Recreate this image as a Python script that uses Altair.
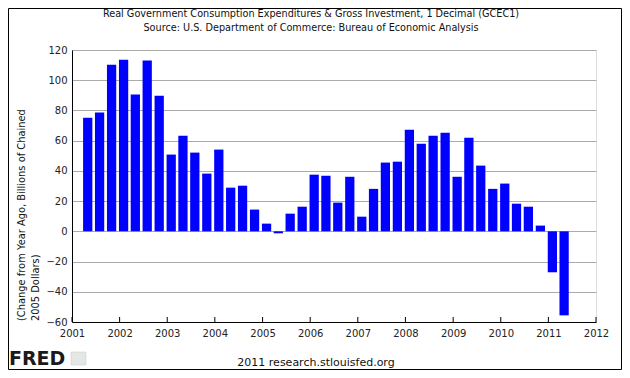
import altair as alt
import pandas as pd

# Year-over-year change, quarterly, 2001 Q2 .. 2011 Q2 (billions of chained 2005 $)
values = [75.2, 78.6, 110.3,
          113.6, 90.5, 113.0, 89.8,
          50.8, 63.3, 52.1, 38.2,
          54.1, 28.9, 30.2, 14.4,
          5.1, -1.3, 11.7, 16.3,
          37.5, 36.8, 19.0, 36.1,
          9.7, 28.1, 45.5, 46.1,
          67.3, 58.0, 63.3, 65.3,
          36.1, 62.0, 43.5, 28.1,
          31.6, 18.3, 16.3, 3.8,
          -27.1, -55.6]
first_quarter = "2001-04-01"
years = list(range(2001, 2013))
y_ticks = [-60, -40, -20, 0, 20, 40, 60, 80, 100, 120]

title_lines = ["Real Government Consumption Expenditures & Gross Investment, 1 Decimal (GCEC1)",
               "Source: U.S. Department of Commerce: Bureau of Economic Analysis"]
ytitle_lines = ["(Change from Year Ago, Billions of Chained", "2005 Dollars)"]
footer = "2011 research.stlouisfed.org"

FONT = "DejaVu Sans"
W, H = 524, 272

dates = pd.date_range(first_quarter, periods=len(values), freq="QS")
df = pd.DataFrame({
    "x0": dates - pd.Timedelta(days=5),
    "x1": dates + pd.Timedelta(days=66),
    "value": values,
})
ticks_df = pd.DataFrame({"yr": pd.to_datetime([f"{y}-01-01" for y in years])})

x_scale = alt.Scale(domain=[alt.DateTime(year=2001, month=1, date=1),
                            alt.DateTime(year=2012, month=1, date=1)], nice=False)
y_scale = alt.Scale(domain=[-60, 120], nice=False, zero=False)

bars = alt.Chart(df).mark_bar(color="#0000ff").encode(
    x=alt.X("x0:T", scale=x_scale, title=None,
            axis=alt.Axis(values=[alt.DateTime(year=y, month=1, date=1) for y in years],
                          format="%Y", labelFlush=False, labelOverlap=False,
                          tickSize=0, labelPadding=6, grid=False,
                          domainColor="#000000", labelFont=FONT, labelFontSize=10,
                          labelColor="#222222")),
    x2="x1:T",
    y=alt.Y("value:Q", scale=y_scale, title=None,
            axis=alt.Axis(values=y_ticks, tickSize=0, labelPadding=5, grid=True,
                          gridColor="#ababab", gridWidth=1, domainColor="#000000",
                          labelFont=FONT, labelFontSize=10, labelColor="#222222")),
    y2=alt.datum(0),
)

xticks = alt.Chart(ticks_df).mark_rule(color="#000000", strokeWidth=1).encode(
    x=alt.X("yr:T", scale=x_scale),
    y=alt.value(H - 5),
    y2=alt.value(H),
)

def txt(s, x, y, **kw):
    return alt.Chart(pd.DataFrame({"t": [s]})).mark_text(font=FONT, **kw).encode(
        text="t:N", x=alt.value(x), y=alt.value(y))

t1 = txt(title_lines[0], 239, -33, fontSize=9.7, align="center", baseline="alphabetic", color="#111111")
t2 = txt(title_lines[1], 239, -19.5, fontSize=9.7, align="center", baseline="alphabetic", color="#111111")
yt1 = txt(ytitle_lines[0], -50.5, 271, fontSize=9.9, align="left", baseline="middle", angle=270, color="#111111")
yt2 = txt(ytitle_lines[1], -36, 271, fontSize=9.9, align="left", baseline="middle", angle=270, color="#111111")
foot = txt(footer, 244, 316, fontSize=11, align="center", baseline="alphabetic", color="#111111")
fred = alt.Chart(pd.DataFrame({"t": ["FRED"]})).mark_text(
    font="DejaVu Sans", fontWeight="bold", fontSize=19, align="left", baseline="alphabetic",
    color="#1a1a1a").encode(text="t:N", x=alt.value(-63), y=alt.value(315))
icon = alt.Chart(pd.DataFrame({"a": [0]})).mark_rect(
    fill="#e4e8e4", stroke="#c8c8c8", strokeWidth=0.5).encode(
    x=alt.value(-1), x2=alt.value(14), y=alt.value(302), y2=alt.value(315))

border = alt.Chart(pd.DataFrame({"a": [0]})).mark_rect(
    fill=None, stroke="#000000", strokeWidth=1).encode(
    x=alt.value(-63.5), x2=alt.value(549.5), y=alt.value(-41.5), y2=alt.value(319.5))

chart = alt.layer(bars, xticks, t1, t2, yt1, yt2, foot, fred, icon, border).properties(
    width=W, height=H,
    padding={"left": 64, "top": 42, "right": 26, "bottom": 48},
    autosize=alt.AutoSizeParams(type="none"),
).configure_view(stroke=None).configure(font=FONT)

chart.save("out.html", embed_options={"renderer": "svg", "actions": False})
